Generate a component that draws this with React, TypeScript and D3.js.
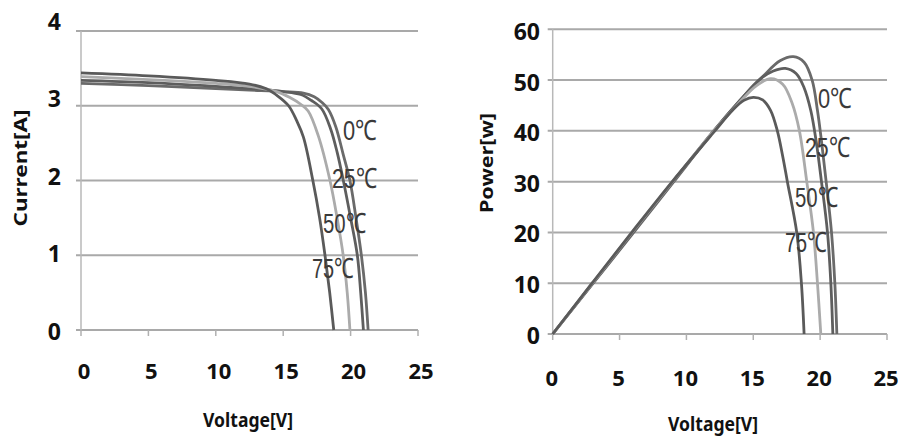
import React from "react";
import * as d3 from "d3";

type Pt = [number, number];

const seriesNames = ["0℃", "25℃", "50℃", "75℃"];
const seriesColors = ["#6a6a6a", "#5e5e5e", "#ababab", "#5a5a5a"];

// I-V curves (Voltage, Current)
const iv0: Pt[] = [[0,3.30],[5,3.27],[10,3.23],[12.5,3.21],[15,3.19],[16.5,3.17],[17.3,3.12],[17.9,3.04],[18.35,2.95],[18.9,2.72],[19.45,2.35],[19.95,2.0],[20.4,1.5],[20.8,1.0],[21.1,0.5],[21.3,0]];
const iv25: Pt[] = [[0,3.34],[5,3.31],[10,3.26],[12.5,3.23],[15,3.19],[16.3,3.15],[17.1,3.07],[17.85,2.96],[18.5,2.7],[19.0,2.38],[19.46,2.0],[20.0,1.5],[20.5,1.0],[20.75,0.5],[20.95,0]];
const iv50: Pt[] = [[0,3.39],[5,3.35],[10,3.30],[12.5,3.26],[14.5,3.19],[15.5,3.11],[16.3,3.02],[16.85,2.93],[17.6,2.6],[18.47,2.0],[19.0,1.5],[19.45,1.0],[19.75,0.5],[19.95,0]];
const iv75: Pt[] = [[0,3.44],[5,3.40],[10,3.34],[12.5,3.29],[13.7,3.23],[14.6,3.13],[15.4,3.0],[16,2.8],[16.5,2.58],[17.2,2.0],[17.7,1.5],[18.1,1.0],[18.45,0.5],[18.75,0]];

// P-V curves (Voltage, Power)
const pv0: Pt[] = [[0,0],[3,9.9],[6,19.8],[9,29.8],[12,39.8],[14,46],[15.75,50.8],[17.0,53.8],[18.0,54.6],[18.8,53.5],[19.4,50],[19.8,44],[20.1,38],[20.45,30],[20.85,20],[21.1,10],[21.25,0]];
const pv25: Pt[] = [[0,0],[3,10],[6,20],[9,30],[12,39.9],[14,46],[15.5,50.2],[16.5,51.8],[17.4,52.3],[18.2,51.3],[18.8,48.5],[19.3,44],[19.7,38],[20.1,30],[20.55,20],[20.8,10],[20.95,0]];
const pv50: Pt[] = [[0,0],[3,10.1],[6,20.2],[9,30.1],[12,39.8],[14,45.7],[15.2,48.8],[16.3,50.3],[17.2,49.2],[17.9,45.5],[18.45,40],[19.0,30],[19.5,20],[19.8,10],[20.05,0]];
const pv75: Pt[] = [[0,0],[3,10.2],[6,20.3],[9,30.2],[12,39.6],[13.5,44.2],[14.3,46],[15.0,46.6],[15.7,46.1],[16.3,44],[16.8,40],[17.2,35],[17.55,30],[18.25,20],[18.6,10],[18.8,0]];

const xTicks = [0, 5, 10, 15, 20, 25];
const ivTicks = [0, 1, 2, 3, 4];
const pvTicks = [0, 10, 20, 30, 40, 50, 60];

// label anchor points (Voltage, value) for temperature labels (left edge, baseline)
const ivLabelPos: Pt[] = [[19.44, 2.54], [18.62, 1.9], [17.95, 1.3], [17.14, 0.7]];
const pvLabelPos: Pt[] = [[19.84, 44.5], [18.87, 34.8], [18.12, 25.0], [17.37, 16.1]];
const labelWidths = [34, 45, 43, 42];

const gridColor = "#a9a9a9";
const tickFont = "'Noto Sans', 'Open Sans', sans-serif";

function Panel(props: {
  x0: number; x1: number; y0: number; y1: number;
  yMax: number; yTicks: number[]; series: Pt[][];
  labelPos: Pt[]; yTitle: string; yTitleX: number; yTitleY: number; yTitleLen: number;
  yLabelX: number; yLabelScale: d3.ScaleLinear<number, number>;
  xLabelY: number; xLabelDx: number; xTitleY: number; xTitleX: number;
}) {
  const x = d3.scaleLinear().domain([0, 25]).range([props.x0, props.x1]);
  const y = d3.scaleLinear().domain([0, props.yMax]).range([props.y0, props.y1]);
  const line = d3.line<Pt>().x(d => x(d[0])).y(d => y(d[1])).curve(d3.curveCatmullRom.alpha(0.5));
  return (
    <g>
      {props.yTicks.map(t => (
        <line key={"g" + t} x1={props.x0 - 5} x2={props.x1} y1={y(t)} y2={y(t)} stroke={gridColor} strokeWidth={2} />
      ))}
      <line x1={props.x0} x2={props.x0} y1={y(0)} y2={y(props.yMax)} stroke="#b8b8b8" strokeWidth={1.5} />
      {xTicks.map(t => (
        <line key={"t" + t} x1={x(t)} x2={x(t)} y1={y(0)} y2={y(0) + 6} stroke="#b0b0b0" strokeWidth={1.5} />
      ))}
      {props.yTicks.map(t => (
        <text key={"yl" + t} x={props.yLabelX} y={props.yLabelScale(t)} textAnchor="end" dominantBaseline="central"
          fontFamily={tickFont} fontWeight={700} fontSize={23} fill="#111">{t}</text>
      ))}
      {xTicks.map(t => (
        <text key={"xl" + t} x={x(t) + props.xLabelDx} y={props.xLabelY} textAnchor="middle" dominantBaseline="central"
          fontFamily={tickFont} fontWeight={700} fontSize={22} fill="#111">{t}</text>
      ))}
      {props.series.map((s, i) => (
        <path key={"s" + i} d={line(s) || ""} fill="none" stroke={seriesColors[i]} strokeWidth={2.8} />
      ))}
      {props.labelPos.map((p, i) => (
        <text key={"lab" + i} x={x(p[0])} y={y(p[1])} fontFamily="'Liberation Sans', sans-serif" fontSize={28}
          fill="#3a3a3a" textLength={labelWidths[i]} lengthAdjust="spacingAndGlyphs">{seriesNames[i]}</text>
      ))}
      <text x={props.xTitleX} y={props.xTitleY} textAnchor="middle" dominantBaseline="central"
        fontFamily={tickFont} fontWeight={700} fontSize={19} fill="#111" textLength={90} lengthAdjust="spacingAndGlyphs">Voltage[V]</text>
      <text transform={`translate(${props.yTitleX},${props.yTitleY}) rotate(-90)`} textAnchor="middle" dominantBaseline="central"
        fontFamily={tickFont} fontWeight={700} fontSize={18} fill="#111" textLength={props.yTitleLen} lengthAdjust="spacingAndGlyphs">{props.yTitle}</text>
    </g>
  );
}

export default function App() {
  const ivLabelScale = d3.scaleLinear().domain([0, 4]).range([330.5, 20.5]);
  const pvLabelScale = d3.scaleLinear().domain([0, 60]).range([334.5, 31]);
  return (
    <svg width={901} height={439} style={{ position: "absolute", left: 0, top: 0, background: "#fff" }}>
      <rect width={901} height={439} fill="#fff" />
      <Panel x0={81} x1={418} y0={330} y1={31} yMax={4} yTicks={ivTicks}
        series={[iv0, iv25, iv50, iv75]} labelPos={ivLabelPos}
        yTitle="Current[A]" yTitleX={20} yTitleY={168} yTitleLen={117}
        yLabelX={61} yLabelScale={ivLabelScale} xLabelY={370} xLabelDx={3} xTitleY={420} xTitleX={248} />
      <Panel x0={552.7} x1={887} y0={334} y1={29.3} yMax={60} yTicks={pvTicks}
        series={[pv0, pv25, pv50, pv75]} labelPos={pvLabelPos}
        yTitle="Power[w]" yTitleX={486} yTitleY={163} yTitleLen={100}
        yLabelX={540} yLabelScale={pvLabelScale} xLabelY={377} xLabelDx={-1} xTitleY={424} xTitleX={713} />
    </svg>
  );
}
